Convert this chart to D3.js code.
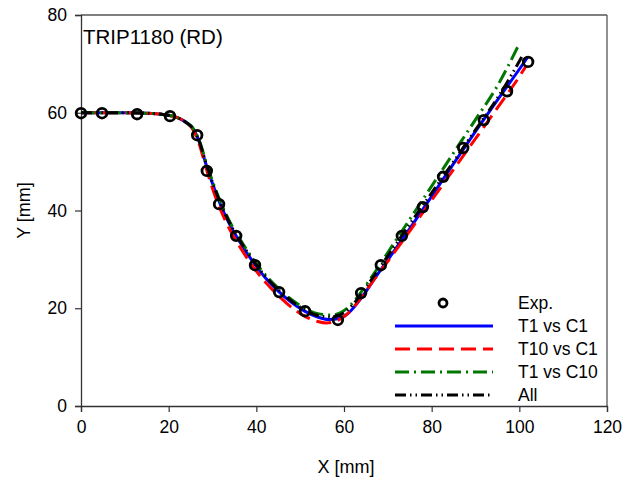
<!DOCTYPE html>
<html><head><meta charset="utf-8">
<script src="https://cdn.jsdelivr.net/npm/d3@7"></script>
<style>body{margin:0;background:#fff;} text{font-family:"Liberation Sans",Arial,sans-serif;}</style>
</head><body>
<svg id="c" width="635" height="482"></svg>
<script>
const xTicks = [0, 20, 40, 60, 80, 100, 120];
const yTicks = [0, 20, 40, 60, 80];
const xExp = [0, 4.8, 12.8, 20.3, 26.5, 28.7, 31.5, 35.4, 39.7, 45.2, 51.1, 58.6, 63.9, 68.4, 73.2, 78.0, 82.6, 87.2, 91.9, 97.2, 102.0];
const yExp = [59.9, 59.9, 59.7, 59.3, 55.4, 48.1, 41.3, 34.8, 28.8, 23.3, 19.4, 17.6, 23.1, 28.8, 34.8, 40.7, 46.9, 52.8, 58.5, 64.4, 70.4];
const xT1C1 = [0, 5, 10, 15, 19, 22, 24, 25.5, 27, 28.5, 30, 32, 34, 36.5, 39, 42, 45, 48, 51, 54, 56.5, 59, 61, 63, 65, 67, 70, 75, 80, 85, 90, 95, 100, 102];
const yT1C1 = [60, 60, 60, 59.9, 59.6, 59.0, 58.0, 56.8, 54.0, 49.5, 45.5, 40.8, 37.0, 33.2, 29.8, 26.3, 23.5, 21.2, 19.4, 18.2, 17.7, 17.9, 19.0, 21.0, 23.4, 26.1, 29.9, 36.3, 42.9, 49.6, 56.2, 62.6, 68.9, 71.5];
const xT10C1 = [0, 5, 10, 15, 19, 22, 24, 25.5, 27, 28.5, 30, 32, 34, 36.5, 39, 42, 45, 48, 51, 54, 56, 58, 60, 62, 64, 66, 70, 75, 80, 85, 90, 95, 100, 101.5];
const yT10C1 = [60, 60, 60, 59.9, 59.6, 59.0, 58.0, 56.6, 53.5, 48.8, 44.5, 39.8, 36.0, 32.2, 28.8, 25.4, 22.6, 20.2, 18.4, 17.3, 17.0, 17.3, 18.3, 20.0, 22.3, 24.8, 29.6, 35.8, 42.1, 48.4, 54.7, 61.0, 67.4, 69.5];
const xT1C10 = [0, 5, 10, 15, 19, 22, 24, 25.5, 27, 28.5, 30, 32, 34, 36.5, 39, 42, 45, 48, 51, 54, 57, 59, 61, 63, 65, 67, 70, 75, 80, 85, 90, 95, 99.7];
const yT1C10 = [60, 60, 60, 59.9, 59.6, 59.0, 58.0, 56.9, 54.3, 50.0, 46.0, 41.4, 37.6, 33.8, 30.4, 26.9, 24.1, 21.8, 20.0, 18.9, 18.6, 19.0, 20.2, 22.2, 24.7, 27.3, 31.4, 38.2, 45.0, 51.8, 58.6, 65.5, 73.6];
const xAll = [0, 5, 10, 15, 19, 22, 24, 25.5, 27, 28.5, 30, 32, 34, 36.5, 39, 42, 45, 48, 51, 54, 57, 59, 61, 63, 65, 67, 70, 75, 80, 85, 90, 95, 100.8];
const yAll = [60, 60, 60, 59.9, 59.6, 59.0, 58.0, 56.8, 54.1, 49.7, 45.7, 41.1, 37.3, 33.5, 30.1, 26.6, 23.8, 21.5, 19.7, 18.5, 18.2, 18.6, 19.8, 21.8, 24.3, 26.8, 30.7, 37.2, 43.6, 50.0, 56.5, 63.0, 71.8];
const seriesNames = ["Exp.", "T1 vs C1", "T10 vs C1", "T1 vs C10", "All"];
const title = "TRIP1180 (RD)";

const svg = d3.select("#c");
const L = 81, R = 607, T = 15, B = 406;
const x = d3.scaleLinear().domain([0, 120]).range([L, R]);
const y = d3.scaleLinear().domain([0, 80]).range([B, T]);

// frame top/right
svg.append("line").attr("x1", L).attr("x2", R).attr("y1", T).attr("y2", T).attr("stroke", "#555").attr("stroke-width", 1.3);
svg.append("line").attr("x1", R).attr("x2", R).attr("y1", T).attr("y2", B).attr("stroke", "#555").attr("stroke-width", 1.3);

const xAxis = svg.append("g").attr("transform", `translate(0,${B})`)
  .call(d3.axisBottom(x).tickValues(xTicks).tickSize(6).tickPadding(9).tickFormat(d3.format("d")));
const yAxis = svg.append("g").attr("transform", `translate(${L},0)`)
  .call(d3.axisLeft(y).tickValues(yTicks).tickSize(6).tickPadding(8).tickFormat(d3.format("d")));
[xAxis, yAxis].forEach(g => {
  g.select(".domain").attr("stroke", "#333").attr("stroke-width", 1.3);
  g.selectAll(".tick line").attr("stroke", "#333").attr("stroke-width", 1.2);
  g.selectAll(".tick text").attr("font-size", 17.5).attr("fill", "#000").attr("font-family", "Liberation Sans, Arial, sans-serif");
});

const line = d3.line().x(d => x(d[0])).y(d => y(d[1])).curve(d3.curveMonotoneX);
const zip = (a, b) => a.map((v, i) => [v, b[i]]);
const styles = [
  {xs: xT1C1, ys: yT1C1, color: "#0000ff", dash: null},
  {xs: xT10C1, ys: yT10C1, color: "#ff0000", dash: "15,7"},
  {xs: xT1C10, ys: yT1C10, color: "#007700", dash: "14,5,2,5"},
  {xs: xAll, ys: yAll, color: "#000000", dash: "11,4,1.5,4,1.5,4"}
];
styles.forEach(s => {
  svg.append("path").datum(zip(s.xs, s.ys)).attr("d", line)
    .attr("fill", "none").attr("stroke", s.color).attr("stroke-width", 3)
    .attr("stroke-dasharray", s.dash);
});
svg.append("g").selectAll("circle").data(zip(xExp, yExp)).join("circle")
  .attr("cx", d => x(d[0])).attr("cy", d => y(d[1])).attr("r", 4.8)
  .attr("fill", "none").attr("stroke", "#000").attr("stroke-width", 2.8);

// title
svg.append("text").attr("x", 83).attr("y", 44).attr("font-size", 20.5).text(title);
// axis titles
svg.append("text").attr("x", (L + R) / 2 + 2).attr("y", 473).attr("text-anchor", "middle").attr("font-size", 18).text("X [mm]");
svg.append("text").attr("transform", `translate(30,${(T + B) / 2}) rotate(-90)`).attr("text-anchor", "middle").attr("font-size", 18).text("Y [mm]");

// legend
const lg = svg.append("g");
const rowsY = [303, 326, 349, 372, 395];
lg.append("circle").attr("cx", 443).attr("cy", rowsY[0]).attr("r", 4).attr("fill", "none").attr("stroke", "#000").attr("stroke-width", 2.8);
styles.forEach((s, i) => {
  lg.append("line").attr("x1", 395).attr("x2", 493).attr("y1", rowsY[i + 1]).attr("y2", rowsY[i + 1])
    .attr("stroke", s.color).attr("stroke-width", 3).attr("stroke-dasharray", s.dash);
});
seriesNames.forEach((n, i) => {
  lg.append("text").attr("x", 518).attr("y", rowsY[i] + 6).attr("font-size", 17.5).text(n);
});
</script>
</body></html>
